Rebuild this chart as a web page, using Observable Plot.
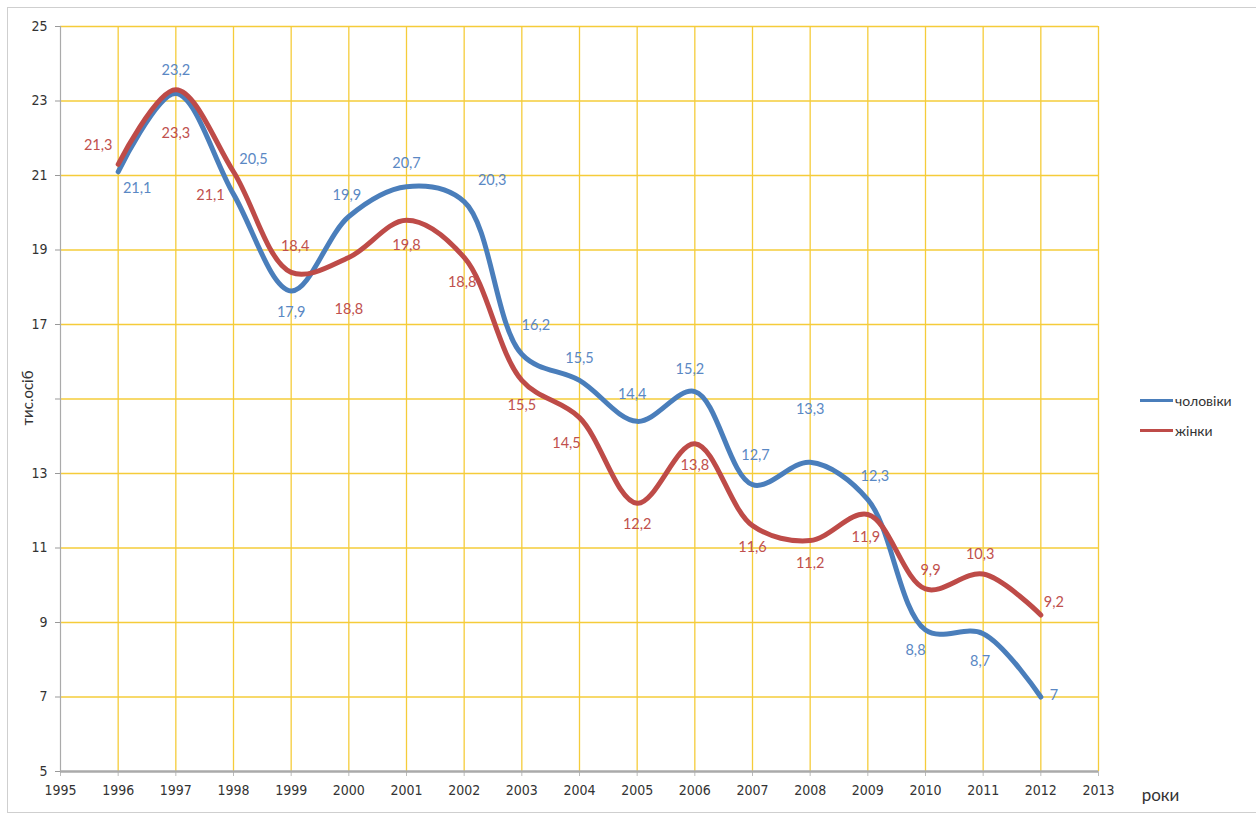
<!DOCTYPE html>
<html>
<head>
<meta charset="utf-8">
<script src="https://cdn.jsdelivr.net/npm/d3@7"></script>
<script src="https://cdn.jsdelivr.net/npm/@observablehq/plot@0.6"></script>
<style>
  html, body { margin: 0; padding: 0; background: #fff; }
  #wrap { position: relative; width: 1256px; height: 818px; overflow: hidden; }
  #frame { position: absolute; left: 7px; top: 7px; width: 1262px; height: 806px; border: 1px solid #cfcfcf; box-sizing: border-box; pointer-events: none; }
  #chart { position: absolute; left: 0; top: 0; }
  .legend { position: absolute; left: 1140px; font-family: Lato, "Open Sans", sans-serif; font-size: 14px; color: #333; display: flex; align-items: center; }
  .legend span.sw { display: inline-block; width: 33px; height: 3px; margin-right: 2px; }
  #ylab { position: absolute; left: 27px; top: 398px; transform: translate(-50%, -50%) rotate(-90deg); font-family: Lato, "Open Sans", sans-serif; font-size: 15px; color: #333; white-space: nowrap; }
</style>
</head>
<body>
<div id="wrap">
  <div id="frame"></div>
  <div id="chart"></div>
  <div id="ylab">тис.осіб</div>
  <div class="legend" style="top:392px"><span class="sw" style="background:#4a7ebb"></span>чоловіки</div>
  <div class="legend" style="top:422px"><span class="sw" style="background:#be4b48"></span>жінки</div>
</div>
<script>
const years = [1996, 1997, 1998, 1999, 2000, 2001, 2002, 2003, 2004, 2005, 2006, 2007, 2008, 2009, 2010, 2011, 2012];
const men   = [21.1, 23.2, 20.5, 17.9, 19.9, 20.7, 20.3, 16.2, 15.5, 14.4, 15.2, 12.7, 13.3, 12.3, 8.8, 8.7, 7];
const women = [21.3, 23.3, 21.1, 18.4, 18.8, 19.8, 18.8, 15.5, 14.5, 12.2, 13.8, 11.6, 11.2, 11.9, 9.9, 10.3, 9.2];
const seriesNames = ["чоловіки", "жінки"];
const xTicks = d3.range(1995, 2014);
const yTicks = [5, 7, 9, 11, 13, 15, 17, 19, 21, 23, 25];
const hiddenYTickLabel = 15; // covered by the axis title in the original

// label placement offsets (layout only)
const menLabelOffsets = [[19,17],[0,-23],[20,-35],[0,21],[-2,-21],[0,-23],[28,-21],[14,-29],[0,-22],[-5,-27],[-5,-22],[3,-29],[0,-53],[7,-23],[-10,20],[-3,28],[13,-2]];
const womenLabelOffsets = [[-20,-19],[0,44],[-23,24],[4,-26],[0,52],[0,25],[-2,25],[0,25],[-13,26],[0,21],[0,22],[0,22],[0,23],[-2,23],[5,-19],[-3,-20],[13,-13]];

const menData = years.map((y, i) => ({year: y, value: men[i], series: seriesNames[0]}));
const womenData = years.map((y, i) => ({year: y, value: women[i], series: seriesNames[1]}));

const fmt = v => String(v).replace(".", ",");
const BLUE = "#4a7ebb", RED = "#be4b48";
const BLUE_T = "#5a88c4", RED_T = "#c0504d";

function labels(data, offs, color) {
  return data.map((d, i) => Plot.text([d], {
    x: "year", y: "value", text: d => fmt(d.value),
    dx: offs[i][0], dy: offs[i][1], fill: color,
    fontSize: 14.5, fontFamily: "Lato, 'Open Sans', sans-serif"
  }));
}

const plot = Plot.plot({
  width: 1256,
  height: 818,
  marginLeft: 60,
  marginRight: 158,
  marginTop: 26,
  marginBottom: 47,
  x: {domain: [1995, 2013], type: "linear"},
  y: {domain: [5, 25]},
  style: {fontFamily: "'Liberation Sans Narrow', 'DejaVu Sans Condensed', Lato, sans-serif", fontSize: "14px", color: "#333", background: "transparent"},
  marks: [
    Plot.gridX(xTicks.filter(t => t > 1995), {stroke: "#f5cc3a", strokeOpacity: 1, strokeWidth: 1.3}),
    Plot.gridY(yTicks.filter(t => t > 5), {stroke: "#f5cc3a", strokeOpacity: 1, strokeWidth: 1.3}),
    Plot.axisY({ticks: yTicks, tickFormat: d => d === hiddenYTickLabel ? "" : String(d), tickSize: 5, tickPadding: 8, label: null, stroke: "#999", fontSize: 14}),
    Plot.axisX({ticks: xTicks, tickFormat: d => String(d), tickSize: 5, tickPadding: 9, label: null, stroke: "#bbb", fontSize: 14}),
    Plot.ruleX([1995], {stroke: "#aaa", strokeWidth: 1.2}),
    Plot.ruleY([5], {stroke: "#aaa", strokeWidth: 2.5}),
    Plot.line(menData, {x: "year", y: "value", stroke: BLUE, strokeWidth: 5, curve: "catmull-rom"}),
    Plot.line(womenData, {x: "year", y: "value", stroke: RED, strokeWidth: 5, curve: "catmull-rom"}),
    ...labels(menData, menLabelOffsets, BLUE_T),
    ...labels(womenData, womenLabelOffsets, RED_T),
    Plot.text(["роки"], {frameAnchor: "bottom-right", dx: 62, dy: 24, textAnchor: "middle", lineAnchor: "middle", fontSize: 17, fill: "#333", fontFamily: "Lato, 'Open Sans', sans-serif"})
  ]
});
document.getElementById("chart").appendChild(plot);
</script>
</body>
</html>
